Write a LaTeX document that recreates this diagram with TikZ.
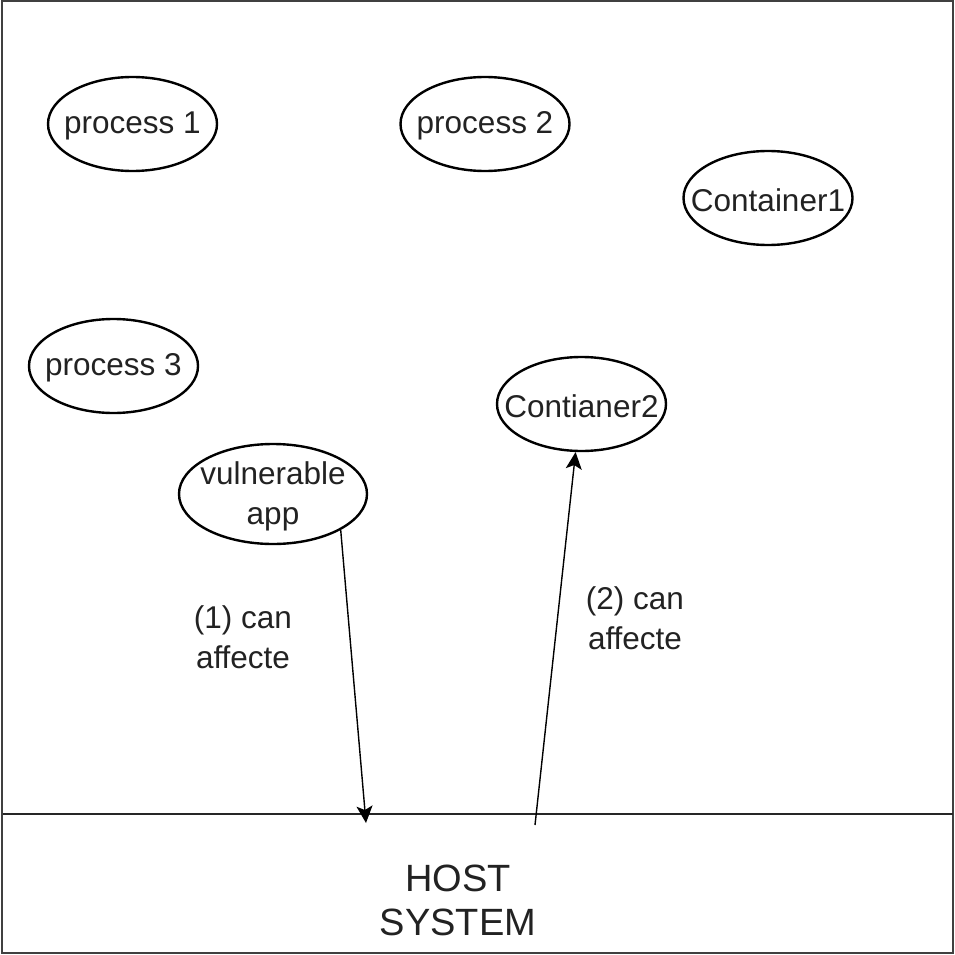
\documentclass[tikz,border=0pt]{standalone}
\usepackage{fontspec}
\setmainfont{Liberation Sans}
\usetikzlibrary{shapes.geometric,arrows.meta}
\definecolor{ink}{HTML}{222222}
\tikzset{
  note/.style={align=center, font=\fontsize{31.5}{40}\selectfont, text=ink},
  bubble/.style={draw=black, line width=2.4pt, ellipse, inner sep=0pt,
    minimum width=169pt, minimum height=94pt,
    label={[note, yshift=-2pt]center:#1}},
  flow/.style={draw=black, line width=1.4pt, -{Stealth[length=17pt,width=16pt,inset=4pt]}},
}
\begin{document}
\begin{tikzpicture}[x=1pt,y=-1pt]
  \useasboundingbox (0,0) rectangle (954,955);
  % outer frame
  \draw[line width=2pt, draw=black!75] (1.5,1.5) rectangle (952.5,953);
  % host boundary line
  \coordinate (hl) at (3,814);
  \coordinate (hr) at (953,814);
  \draw[line width=1.4pt, draw=black!85] (hl) -- (hr);

  % processes and containers
  \node[bubble={process 1}] (p1) at (132.5,124) {};
  \node[bubble={process 2}] (p2) at (485,124) {};
  \node[bubble={Container1}] (c1) at (768,198) {};
  \node[bubble={process 3}] (p3) at (113.5,366) {};
  \node[bubble={Contianer2}] (c2) at (581.5,404) {};
  \node[bubble={vulnerable\\app}, minimum width=188pt, minimum height=100pt] (va) at (273,494) {};

  % arrow ends on the host line
  \coordinate (hit1) at (366,823);
  \coordinate (src2) at (535,825);
  \draw[flow] (va.-28.6) -- (hit1);
  \draw[flow] (src2) -- (c2.-97.9);

  % labels
  \node[note] (l1) at (243,637) {(1) can\\affecte};
  \node[note] (l2) at (635,618) {(2) can\\affecte};
  \node[align=center, font=\fontsize{38}{44}\selectfont, text=ink] (host) at (458,900) {HOST\\SYSTEM};
\end{tikzpicture}
\end{document}
